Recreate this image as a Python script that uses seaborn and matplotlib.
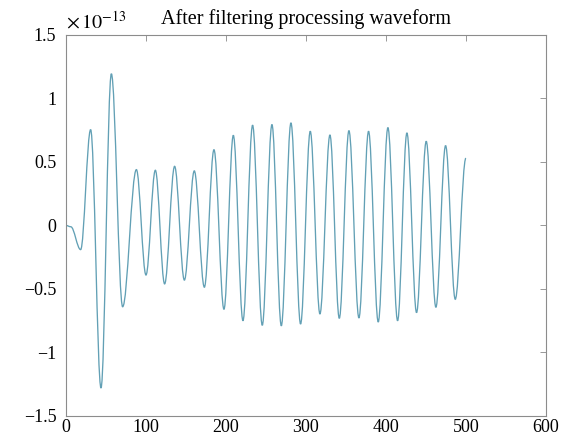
"""Filtered waveform, redrawn from the reference chart."""
import matplotlib
matplotlib.use('Agg')
import matplotlib.pyplot as plt
from matplotlib.path import Path
from matplotlib.patches import PathPatch
import seaborn as sns

# turning points of the waveform (sample index, amplitude in units of 1e-13)
sample_idx = [0, 6, 18.3, 30.8, 43.75, 56.7, 70.8, 88, 100, 111.7,
              123.3, 135.8, 148, 160.4, 173, 185, 197.5, 209.2, 221.25, 233.3,
              245.4, 257.5, 269.2, 281.25, 293.3, 305.4, 317.5, 330, 341.7, 353.75,
              366.25, 378.3, 390.4, 402.5, 414.6, 426.25, 438.3, 450.4, 462.5, 474.6,
              486.7, 500]
amplitude = [0, -0.01, -0.19, 0.755, -1.28, 1.195, -0.64, 0.44, -0.39, 0.435,
             -0.46, 0.466, -0.43, 0.43, -0.486, 0.597, -0.66, 0.71, -0.75, 0.79,
             -0.786, 0.795, -0.79, 0.808, -0.776, 0.742, -0.697, 0.713, -0.731, 0.747,
             -0.728, 0.742, -0.76, 0.771, -0.75, 0.729, -0.686, 0.663, -0.644, 0.629,
             -0.581, 0.53]

x_ticks = [0, 100, 200, 300, 400, 500, 600]
y_ticks = [-1.5, -1, -0.5, 0, 0.5, 1, 1.5]
y_tick_labels = ['\u22121.5', '\u22121', '\u22120.5', '0', '0.5', '1', '1.5']

sns.set_style('white')
plt.rcParams['font.family'] = ['Liberation Serif', 'DejaVu Serif']
plt.rcParams['mathtext.fontset'] = 'stix'
plt.rcParams['text.color'] = 'black'
plt.rcParams['xtick.labelcolor'] = 'black'
plt.rcParams['ytick.labelcolor'] = 'black'

fig = plt.figure(figsize=(5.74, 4.43), dpi=100)
ax = fig.add_axes([0.115, 0.061, 0.836, 0.860])

# smooth curve through the turning points (flat tangent at each one)
verts = [(sample_idx[0], amplitude[0])]
codes = [Path.MOVETO]
for (x0, y0), (x1, y1) in zip(zip(sample_idx[:-1], amplitude[:-1]),
                              zip(sample_idx[1:], amplitude[1:])):
    dx = x1 - x0
    verts += [(x0 + 0.36 * dx, y0), (x1 - 0.36 * dx, y1), (x1, y1)]
    codes += [Path.CURVE4] * 3
ax.add_patch(PathPatch(Path(verts, codes), facecolor='none',
                       edgecolor='#62a0b5', linewidth=0.95))

ax.set_xlim(0, 600)
ax.set_ylim(-1.5, 1.5)
ax.set_xticks(x_ticks)
ax.set_yticks(y_ticks)
ax.set_yticklabels(y_tick_labels)
ax.tick_params(axis='both', direction='in', length=4, width=0.6, color='#888888',
               labelsize=13, labelcolor='black', top=True, right=True)
ax.tick_params(axis='x', pad=2)
ax.tick_params(axis='y', pad=7)
for spine in ax.spines.values():
    spine.set_color('#8c8c8c')
    spine.set_linewidth(0.8)

ax.set_title('After filtering processing waveform', fontsize=14.5, pad=8,
             color='black')
ax.text(0.0, 1.005, r'$\times\,10^{-13}$', transform=ax.transAxes,
        fontsize=14.5, ha='left', va='bottom', color='black')

fig.savefig('out.png', dpi=100)
